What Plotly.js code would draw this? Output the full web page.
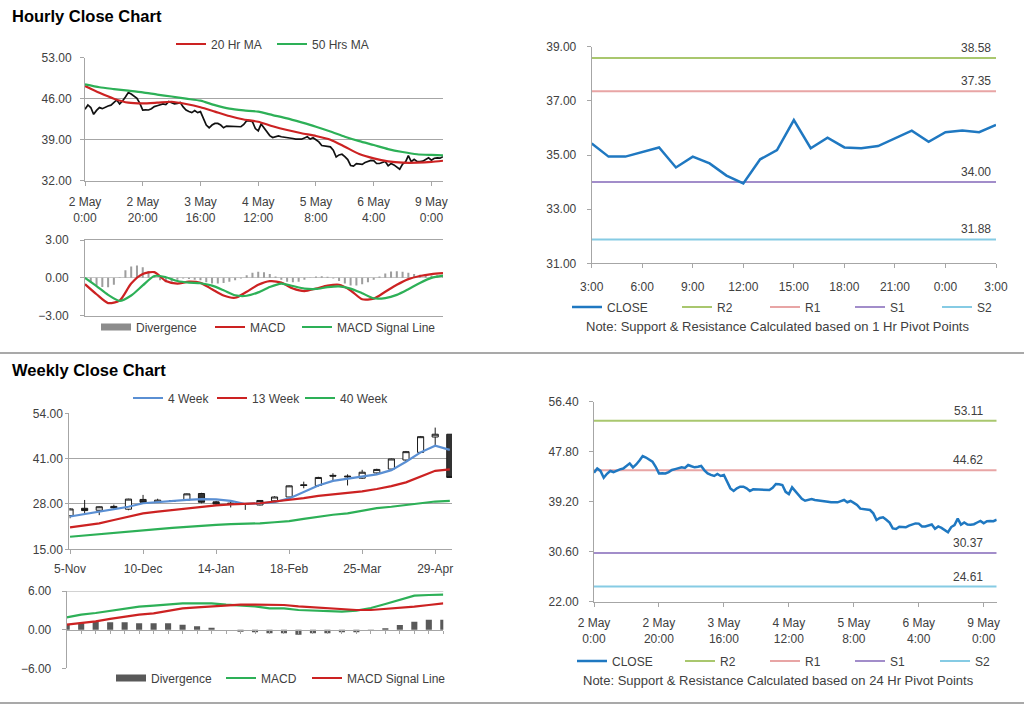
<!DOCTYPE html>
<html><head><meta charset="utf-8">
<script src="https://cdn.plot.ly/plotly-3.0.1.min.js"></script>
<style>html,body{margin:0;padding:0;background:#fff}#chart{width:1024px;height:706px}</style>
</head><body><div id="chart"></div>
<script>
// ================= DATA =================
// Hourly chart (2 May 0:00 .. 9 May 3:00), one value per hour
const hourTickIdx = [0, 20, 40, 60, 80, 100, 120];
const hourTickLabels = ['2 May<br>0:00','2 May<br>20:00','3 May<br>16:00','4 May<br>12:00','5 May<br>8:00','6 May<br>4:00','9 May<br>0:00'];
const hourlyClose = [
 44.19,44.93,44.5,43.33,44.0,44.48,44.3,44.6,44.76,44.9,
 45.3,45.79,45.11,45.6,46.3,47.05,46.8,46.4,46.08,45.2,
 44.07,44.1,44.07,44.3,44.65,44.8,44.9,45.11,45.0,45.51,
 45.3,45.11,45.2,45.34,44.6,44.07,43.8,43.62,43.96,43.62,
 43.79,42.6,41.49,41.04,41.5,41.78,41.78,41.5,41.04,41.32,
 41.3,41.2,41.25,41.2,41.21,41.6,42.24,42.2,42.07,40.9,
 40.52,41.67,41.0,40.18,39.7,39.37,39.5,39.66,39.5,39.45,
 39.37,39.3,39.2,39.09,39.1,39.09,39.3,39.49,39.1,39.32,
 39.0,38.63,38.0,37.94,37.9,37.77,37.2,36.05,36.4,36.51,
 36.1,35.6,34.6,34.5,34.9,34.8,34.79,35.1,35.3,35.47,
 35.43,34.94,34.94,35.12,35.28,34.54,34.94,34.69,34.24,33.95,
 34.84,35.18,36.29,35.25,35.64,35.28,35.25,35.33,35.62,35.90,
 35.49,35.84,35.90,35.84,36.11];
const maHourIdx = [0,5,10,15,20,25,30,35,40,45,50,55,60,65,70,75,80,85,90,95,100,105,110,115,120,124];
const ma20Hr = [48.16,47.0,46.0,45.32,45.2,45.32,45.48,45.1,44.55,43.8,43.04,42.45,42.07,41.3,40.65,40.1,39.63,39.0,37.8,36.55,35.81,35.3,35.07,35.07,35.2,35.41];
const ma50Hr = [48.45,47.95,47.65,47.37,47.08,46.7,46.37,46.0,45.66,44.9,44.3,44.0,43.78,43.2,42.64,41.95,41.22,40.4,39.51,38.75,38.09,37.4,36.9,36.52,36.4,36.33];
// hourly MACD, sampled every 4 hours
const macdHourly = [-0.5,-1.3,-2.0,-1.8,-0.45,0.3,0.45,-0.25,-0.45,-0.3,-0.4,-0.9,-1.4,-1.58,-1.1,-0.55,-0.26,-0.38,-0.85,-1.05,-0.85,-0.62,-0.55,-1.0,-1.7,-1.65,-1.1,-0.55,-0.1,0.15,0.3,0.38];
const signalHourly = [0.0,-0.65,-1.35,-1.83,-1.4,-0.6,0.15,0.05,-0.25,-0.38,-0.43,-0.62,-0.98,-1.38,-1.42,-1.15,-0.72,-0.45,-0.65,-0.85,-0.88,-0.74,-0.68,-0.85,-1.22,-1.62,-1.6,-1.35,-0.9,-0.4,0.0,0.18];
// hourly divergence, sampled every 2 hours
const divHourly = [-0.1,-0.35,-0.6,-0.72,-0.75,-0.55,0.05,0.6,0.9,0.98,0.85,0.55,0.15,-0.2,-0.35,-0.3,-0.15,-0.05,-0.1,-0.15,-0.2,-0.35,-0.45,-0.45,-0.4,-0.3,-0.2,-0.05,0.2,0.4,0.48,0.45,0.3,0.1,-0.15,-0.3,-0.35,-0.3,-0.15,0.02,0.1,0.12,0.08,-0.05,-0.25,-0.45,-0.6,-0.6,-0.5,-0.35,-0.15,0.1,0.35,0.5,0.52,0.48,0.4,0.3,0.25,0.2,0.18,0.2,0.2];

// 1 Hr pivot chart (last 24 hours)
const pivotHourLabels = ['3:00','4:00','5:00','6:00','7:00','8:00','9:00','10:00','11:00','12:00','13:00','14:00','15:00','16:00','17:00','18:00','19:00','20:00','21:00','22:00','23:00','0:00','1:00','2:00','3:00'];
const pivotClose = [35.43,34.94,34.94,35.12,35.28,34.54,34.94,34.69,34.24,33.95,34.84,35.18,36.29,35.25,35.64,35.28,35.25,35.33,35.62,35.90,35.49,35.84,35.90,35.84,36.11];
const levelNames = ['R2','R1','S1','S2'];
const levels1Hr = [38.58, 37.35, 34.00, 31.88];
const levels24Hr = [53.11, 44.62, 30.37, 24.61];

// Weekly chart
const weekTickIdx = [0, 5, 10, 15, 20, 25];
const weekTickLabels = ['5-Nov','10-Dec','14-Jan','18-Feb','25-Mar','29-Apr'];
const weekOpen  = [24.65,26.76,26.2,27.3,26.5,29.3,28.5,28.8,29.1,31.0,28.6,27.9,28.0,27.7,28.9,30.0,33.5,33.3,36.2,36.0,35.4,36.9,38.0,40.6,42.8,47.2,48.0];
const weekHigh  = [26.8,29.15,27.3,27.8,29.5,30.6,29.5,29.0,31.0,31.2,28.9,28.7,28.2,29.1,30.2,33.3,34.4,35.8,36.8,36.5,37.8,38.1,41.0,43.2,47.5,49.9,48.0];
const weekLow   = [23.9,25.3,24.8,26.4,26.2,28.2,28.4,28.7,29.0,28.2,27.8,27.0,26.3,27.6,28.8,29.9,32.5,33.0,34.6,33.3,35.2,36.5,37.8,40.3,42.6,44.9,35.6];
const weekClose = [26.57,26.1,27.2,26.9,29.4,28.5,29.1,28.9,30.9,28.5,28.0,28.2,27.9,29.0,30.0,33.2,33.3,35.6,36.0,35.8,37.1,37.9,40.9,43.0,47.3,48.0,35.6];
const ma4Week  = [24.4,25.1,25.8,26.5,27.2,28.2,28.6,29.0,29.2,29.4,29.3,28.9,28.0,28.2,28.5,29.6,31.5,33.3,34.6,35.2,35.8,36.5,37.7,40.1,42.8,44.7,43.5];
const ma13Week = [21.3,21.8,22.45,23.4,24.4,25.3,25.8,26.3,26.8,27.2,27.6,27.9,28.05,28.2,28.7,29.15,29.7,30.3,30.7,31.05,31.6,32.3,33.1,34.2,35.85,37.5,37.9];
const ma40Week = [18.6,19.0,19.4,19.75,20.1,20.45,20.8,21.15,21.5,21.8,22.0,22.2,22.3,22.45,22.75,23.1,23.7,24.4,24.9,25.3,26.0,26.8,27.2,27.7,28.2,28.7,28.9];
const wkMacd   = [1.91,2.33,2.59,2.95,3.31,3.57,3.72,3.88,4.09,4.09,4.09,3.88,3.72,3.62,3.31,3.31,3.05,2.95,2.95,2.79,2.95,3.36,3.98,4.66,5.28,5.38,5.43];
const wkSignal = [0.78,0.98,1.29,1.66,2.02,2.33,2.53,2.95,3.31,3.47,3.62,3.83,3.88,3.88,3.88,3.83,3.62,3.47,3.36,3.21,3.05,3.05,3.21,3.36,3.57,3.83,4.09];
const wkDiv    = [0.88,0.98,1.24,1.14,1.14,0.98,0.98,0.98,0.78,0.52,0.31,0,-0.31,-0.41,-0.57,-0.57,-0.78,-0.57,-0.57,-0.41,-0.41,-0.2,0.2,0.72,1.24,1.55,1.55];

// axis tick values
const p1YTicks = [32, 39, 46, 53];
const p2YTicks = [-3, 0, 3];
const p3YTicks = [31, 33, 35, 37, 39];
const p4YTicks = [15, 28, 41, 54];
const p5YTicks = [-6, 0, 6];
const p6YTicks = [22, 30.6, 39.2, 47.8, 56.4];

// ================= STYLE =================
const W = 1024, H = 706;
const FONT = 'Liberation Sans, Arial, Helvetica, sans-serif';
const TXT = '#404040';
const G = '#A6A6A6';
const RED = '#CC2222', GREEN = '#2DB057', BLUE = '#1F78C1', LBLUE = '#5A8FD3';
const levelColors = ['#A9C76E', '#E8A5A5', '#A28DCA', '#86CBE4'];
const tf = {family: FONT, size: 12, color: TXT};
const dx = (a, b) => [a / W, b / W];
const dy = (t, b) => [1 - b / H, 1 - t / H];

const idx = arr => arr.map((_, i) => i);
const hourX = idx(hourlyClose);
const macdX = macdHourly.map((_, i) => i * 4);
const divX = divHourly.map((_, i) => i * 2);
const pivotX = idx(pivotClose);
const weeks = idx(weekClose);

function xAx(domain, range, anchor, extra) {
  return Object.assign({domain, range, anchor, showgrid: false, zeroline: false, showline: true,
    linecolor: G, linewidth: 1, ticks: 'outside', ticklen: 4, tickcolor: G, tickfont: tf, fixedrange: true}, extra);
}
function yAx(domain, range, anchor, tickvals, extra) {
  return Object.assign({domain, range, anchor, tickvals, tickformat: '.2f', showgrid: false, zeroline: false,
    showline: true, linecolor: G, linewidth: 1, ticks: 'outside', ticklen: 4, tickcolor: G, tickfont: tf,
    gridcolor: G, fixedrange: true}, extra);
}
function mkLegend(xpx, ypx) {
  return {orientation: 'h', x: xpx / W, y: 1 - ypx / H, xanchor: 'left', yanchor: 'middle',
    font: tf, bgcolor: 'rgba(0,0,0,0)', borderwidth: 0, itemwidth: 30, tracegroupgap: 0,
    traceorder: 'normal', itemclick: false, itemdoubleclick: false};
}

const traces = [];
// ---- Panel 1: hourly price with MAs
traces.push({x: hourX, y: hourlyClose, type: 'scatter', mode: 'lines', line: {color: '#111', width: 1.7},
  xaxis: 'x', yaxis: 'y', showlegend: false, hoverinfo: 'skip'});
traces.push({x: maHourIdx, y: ma20Hr, type: 'scatter', mode: 'lines', name: '20 Hr MA', line: {color: RED, width: 2.2, shape: 'spline', smoothing: 0.6},
  xaxis: 'x', yaxis: 'y', legend: 'legend', legendwidth: 56});
traces.push({x: maHourIdx, y: ma50Hr, type: 'scatter', mode: 'lines', name: '50 Hrs MA', line: {color: GREEN, width: 2.2, shape: 'spline', smoothing: 0.6},
  xaxis: 'x', yaxis: 'y', legend: 'legend'});
// ---- Panel 2: hourly MACD
traces.push({x: divX, y: divHourly, type: 'bar', width: 0.7, marker: {color: '#9E9E9E', line: {width: 0}},
  xaxis: 'x2', yaxis: 'y2', showlegend: false, hoverinfo: 'skip'});
traces.push({x: [null], y: [null], type: 'scatter', mode: 'lines', name: 'Divergence', line: {color: '#8C8C8C', width: 7},
  xaxis: 'x2', yaxis: 'y2', legend: 'legend2', legendwidth: 69});
traces.push({x: macdX, y: macdHourly, type: 'scatter', mode: 'lines', name: 'MACD', line: {color: RED, width: 2.2, shape: 'spline', smoothing: 0.7},
  xaxis: 'x2', yaxis: 'y2', legend: 'legend2', legendwidth: 42});
traces.push({x: macdX, y: signalHourly, type: 'scatter', mode: 'lines', name: 'MACD Signal Line', line: {color: GREEN, width: 2.2, shape: 'spline', smoothing: 0.7},
  xaxis: 'x2', yaxis: 'y2', legend: 'legend2'});
// ---- Panel 3: 1 Hr pivot
const lw3 = [43, 40, 42, 30];
levelNames.forEach((n, k) => {
  traces.push({x: [pivotX[0], pivotX[pivotX.length - 1]], y: [levels1Hr[k], levels1Hr[k]], type: 'scatter', mode: 'lines', name: n,
    line: {color: levelColors[k], width: 2}, xaxis: 'x3', yaxis: 'y3', legend: 'legend3', legendrank: k + 2, legendwidth: lw3[k], hoverinfo: 'skip'});
});
traces.push({x: pivotX, y: pivotClose, type: 'scatter', mode: 'lines', name: 'CLOSE', line: {color: BLUE, width: 2.5},
  xaxis: 'x3', yaxis: 'y3', legend: 'legend3', legendrank: 1, legendwidth: 65});
// ---- Panel 4: weekly candles + MAs
traces.push({type: 'candlestick', x: weeks, open: weekOpen, high: weekHigh, low: weekLow, close: weekClose,
  xaxis: 'x4', yaxis: 'y4', whiskerwidth: 0, showlegend: false, hoverinfo: 'skip',
  increasing: {line: {color: '#1A1A1A', width: 1}, fillcolor: '#FFFFFF'},
  decreasing: {line: {color: '#1A1A1A', width: 1}, fillcolor: '#333333'}});
traces.push({x: weeks, y: ma4Week, type: 'scatter', mode: 'lines', name: '4 Week', line: {color: LBLUE, width: 2.2},
  xaxis: 'x4', yaxis: 'y4', legend: 'legend4', legendwidth: 39});
traces.push({x: weeks, y: ma13Week, type: 'scatter', mode: 'lines', name: '13 Week', line: {color: RED, width: 2.2},
  xaxis: 'x4', yaxis: 'y4', legend: 'legend4', legendwidth: 43});
traces.push({x: weeks, y: ma40Week, type: 'scatter', mode: 'lines', name: '40 Week', line: {color: GREEN, width: 2.2},
  xaxis: 'x4', yaxis: 'y4', legend: 'legend4'});
// ---- Panel 5: weekly MACD
traces.push({x: weeks, y: wkDiv, type: 'bar', width: 0.42, marker: {color: '#595959', line: {width: 0}},
  xaxis: 'x5', yaxis: 'y5', showlegend: false, hoverinfo: 'skip'});
traces.push({x: [null], y: [null], type: 'scatter', mode: 'lines', name: 'Divergence', line: {color: '#595959', width: 7},
  xaxis: 'x5', yaxis: 'y5', legend: 'legend5', legendwidth: 65});
traces.push({x: weeks, y: wkMacd, type: 'scatter', mode: 'lines', name: 'MACD', line: {color: GREEN, width: 2.2},
  xaxis: 'x5', yaxis: 'y5', legend: 'legend5', legendwidth: 41});
traces.push({x: weeks, y: wkSignal, type: 'scatter', mode: 'lines', name: 'MACD Signal Line', line: {color: RED, width: 2.2},
  xaxis: 'x5', yaxis: 'y5', legend: 'legend5'});
// ---- Panel 6: 24 Hr pivot
const lw6 = [40, 40, 40, 30];
levelNames.forEach((n, k) => {
  traces.push({x: [hourX[0], hourX[hourX.length - 1]], y: [levels24Hr[k], levels24Hr[k]], type: 'scatter', mode: 'lines', name: n,
    line: {color: levelColors[k], width: 2}, xaxis: 'x6', yaxis: 'y6', legend: 'legend6', legendrank: k + 2, legendwidth: lw6[k], hoverinfo: 'skip'});
});
traces.push({x: hourX, y: hourlyClose, type: 'scatter', mode: 'lines', name: 'CLOSE', line: {color: BLUE, width: 2.5},
  xaxis: 'x6', yaxis: 'y6', legend: 'legend6', legendrank: 1, legendwidth: 63});

// ---- annotations
const titleFont = {family: FONT, size: 16.5, color: '#000'};
const noteFont = {family: FONT, size: 13, color: TXT};
const annotations = [
  {text: '<b>Hourly Close Chart</b>', xref: 'paper', yref: 'paper', x: 10 / W, y: 1 - 16 / H, xanchor: 'left', yanchor: 'middle', showarrow: false, font: titleFont},
  {text: '<b>Weekly Close Chart</b>', xref: 'paper', yref: 'paper', x: 10 / W, y: 1 - 370 / H, xanchor: 'left', yanchor: 'middle', showarrow: false, font: titleFont},
  {text: 'Note: Support & Resistance Calculated based on 1 Hr Pivot Points', xref: 'paper', yref: 'paper', x: 777 / W, y: 1 - 326 / H, xanchor: 'center', yanchor: 'middle', showarrow: false, font: noteFont},
  {text: 'Note: Support & Resistance Calculated based on 24 Hr Pivot Points', xref: 'paper', yref: 'paper', x: 778 / W, y: 1 - 680 / H, xanchor: 'center', yanchor: 'middle', showarrow: false, font: noteFont}
];
levels1Hr.forEach(v => annotations.push({text: v.toFixed(2), xref: 'x3', yref: 'y3', x: pivotX[pivotX.length - 1], y: v,
  xanchor: 'right', yanchor: 'bottom', xshift: -3, yshift: 1, showarrow: false, font: tf}));
levels24Hr.forEach(v => annotations.push({text: v.toFixed(2), xref: 'x6', yref: 'y6', x: hourX[hourX.length - 1], y: v,
  xanchor: 'right', yanchor: 'bottom', xshift: -12, yshift: 1, showarrow: false, font: tf}));

const shapes = [
  {type: 'line', xref: 'paper', yref: 'paper', x0: 0, x1: 1, y0: 1 - 353 / H, y1: 1 - 353 / H, line: {color: '#8C8C8C', width: 1.5}},
  {type: 'line', xref: 'paper', yref: 'paper', x0: 0, x1: 1, y0: 1 - 703 / H, y1: 1 - 703 / H, line: {color: '#8C8C8C', width: 1.5}},
  {type: 'line', xref: 'x5 domain', yref: 'y5', x0: 0, x1: 1, y0: p5YTicks[2], y1: p5YTicks[2], line: {color: G, width: 1}}
];

const zeroPos5 = 1 - ((591 + 668.3) / 2) / H;

const layout = {
  width: W, height: H, autosize: false, margin: {l: 0, r: 0, t: 0, b: 0, pad: 0},
  paper_bgcolor: '#fff', plot_bgcolor: 'rgba(0,0,0,0)', font: tf, hovermode: false,
  boxgap: 0.4,
  xaxis: xAx(dx(85, 443), [0, 124], 'y', {tickvals: hourTickIdx, ticktext: hourTickLabels, ticklabelstandoff: 6}),
  yaxis: yAx(dy(57.7, 180.7), [32, 53], 'x', p1YTicks, {showgrid: true, ticklabelstandoff: 6}),
  xaxis2: xAx(dx(85, 443), [0, 124], 'y2', {showticklabels: false, ticks: '', mirror: true}),
  yaxis2: yAx(dy(240, 315.7), [-3, 3], 'x2', p2YTicks, {zeroline: true, zerolinecolor: '#C8C8C8', zerolinewidth: 1, ticklabelstandoff: 9}),
  xaxis3: xAx(dx(591.7, 996), [0, 24], 'y3', {tickvals: pivotX.filter(i => i % 3 === 0), ticktext: pivotHourLabels.filter((_, i) => i % 3 === 0), ticklabelstandoff: 8}),
  yaxis3: yAx(dy(46.7, 263.3), [31, 39], 'x3', p3YTicks, {ticklabelstandoff: 8}),
  xaxis4: xAx(dx(69.3, 452), [-0.05, 26.15], 'y4', {tickvals: weekTickIdx, ticktext: weekTickLabels, rangeslider: {visible: false}, ticklabelstandoff: 4}),
  yaxis4: yAx(dy(413.3, 549.3), [15, 54], 'x4', p4YTicks, {showgrid: true, ticklen: 3}),
  xaxis5: xAx(dx(66.7, 443.3), [0, 26], 'free', {position: zeroPos5, showticklabels: false, tickvals: weeks, ticklen: 3}),
  yaxis5: yAx(dy(591, 668.3), [-6, 6], 'x5', p5YTicks, {ticklabelstandoff: 8}),
  xaxis6: xAx(dx(594, 996.7), [0, 124], 'y6', {tickvals: hourTickIdx, ticktext: hourTickLabels, ticklabelstandoff: 6}),
  yaxis6: yAx(dy(401.7, 601.7), [22, 56.4], 'x6', p6YTicks, {ticklabelstandoff: 8}),
  legend: mkLegend(171, 44),
  legend2: mkLegend(96, 327),
  legend3: mkLegend(567, 307),
  legend4: mkLegend(128, 398),
  legend5: mkLegend(111, 678),
  legend6: mkLegend(572, 661),
  annotations, shapes
};

Plotly.newPlot('chart', traces, layout, {staticPlot: true, displayModeBar: false});
</script></body></html>
